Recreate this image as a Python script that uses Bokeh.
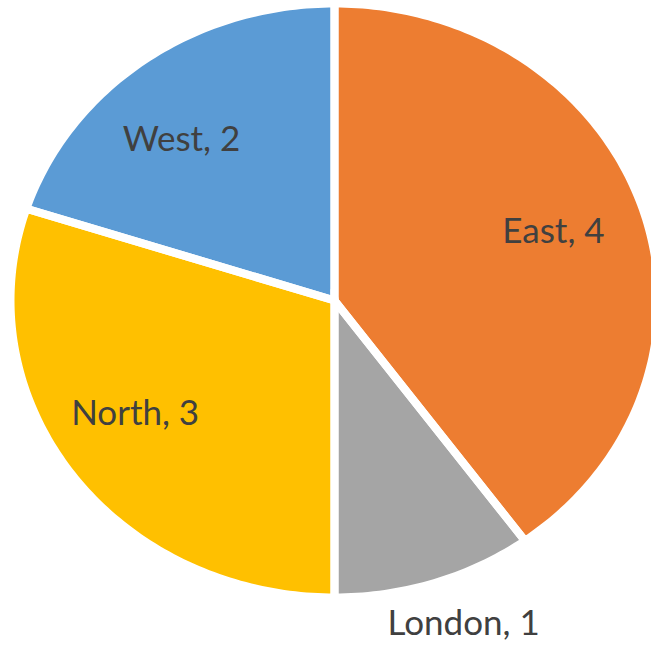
import numpy as np
from bokeh.plotting import figure
from bokeh.models import ColumnDataSource, Range1d
from bokeh.core.properties import value
from bokeh.embed import file_html
from bokeh.resources import INLINE

# ---- data ----
regions = ["East", "London", "North", "West"]
sales = [4, 1, 3, 2]
slice_colors = ["#ED7D31", "#A5A5A5", "#FFC000", "#5B9BD5"]

# ---- layout/style constants ----
W, H = 651, 645
CX, CY = 334.0, 300.0          # pie centre (screen-like data units)
RX, RY = 324.0, 297.0          # slightly elliptical pie
label_radius = [0.73, 1.15, 0.73, 0.73]
label_dx = [-6, 14, -8, -14]
label_dy = [-5, -4, -17, 12]

total = float(sum(sales))
fracs = np.array(sales) / total
ends = np.cumsum(fracs) * 2 * np.pi
starts = ends - fracs * 2 * np.pi

xs, ys, lx, ly, texts = [], [], [], [], []
for i, (a0, a1) in enumerate(zip(starts, ends)):
    n = max(int((a1 - a0) / (2 * np.pi) * 360), 8)
    t = np.linspace(a0, a1, n + 1)
    px = np.concatenate([[CX], CX + RX * np.sin(t), [CX]])
    py = np.concatenate([[CY], CY - RY * np.cos(t), [CY]])
    xs.append(px.tolist())
    ys.append(py.tolist())
    mid = (a0 + a1) / 2
    f = label_radius[i]
    lx.append(CX + f * RX * np.sin(mid) + label_dx[i])
    ly.append(CY - f * RY * np.cos(mid) + label_dy[i])
    texts.append(f"{regions[i]}, {sales[i]}")

src = ColumnDataSource(dict(xs=xs, ys=ys, color=slice_colors))
lsrc = ColumnDataSource(dict(x=lx, y=ly, text=texts))

p = figure(width=W, height=H, output_backend="svg", toolbar_location=None,
           x_range=Range1d(0, W), y_range=Range1d(H, 0),
           min_border=0, min_border_left=0, min_border_right=0,
           min_border_top=0, min_border_bottom=0)
p.axis.visible = False
p.grid.visible = False
p.outline_line_color = None
p.background_fill_color = "white"
p.border_fill_color = "white"

p.patches("xs", "ys", source=src, fill_color="color", line_color=None)
p.patches("xs", "ys", source=src, fill_alpha=0, line_color="white",
          line_width=8, line_join="miter")

p.text("x", "y", text="text", source=lsrc, text_align="center",
       text_baseline="middle", text_font=value("Lato"),
       text_font_size="35px", text_color="#404040")

open("out.html", "w").write(file_html(p, INLINE))
